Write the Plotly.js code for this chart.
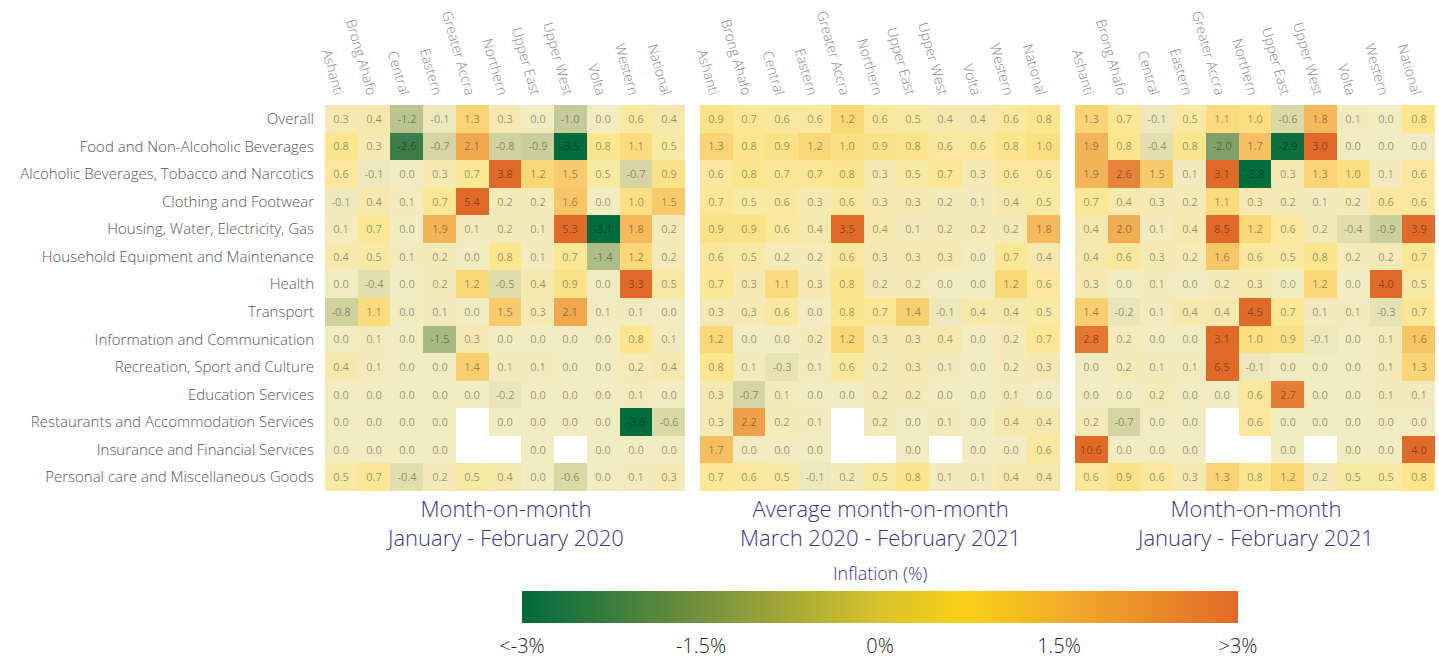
<!DOCTYPE html>
<html>
<head>
<meta charset="utf-8">
<script src="https://cdn.plot.ly/plotly-3.0.1.min.js"></script>
<style>html,body{margin:0;padding:0;background:#fff;}#chart{width:1439px;height:664px;}</style>
</head>
<body>
<div id="chart"></div>
<script>
const regions = ["Ashanti","Brong Ahafo","Central","Eastern","Greater Accra","Northern","Upper East","Upper West","Volta","Western","National"];
const categories = ["Overall","Food and Non-Alcoholic Beverages","Alcoholic Beverages, Tobacco and Narcotics","Clothing and Footwear","Housing, Water, Electricity, Gas","Household Equipment and Maintenance","Health","Transport","Information and Communication","Recreation, Sport and Culture","Education Services","Restaurants and Accommodation Services","Insurance and Financial Services","Personal care and Miscellaneous Goods"];

const momJanFeb2020 = [
  [0.3,0.4,-1.2,-0.1,1.3,0.3,0.0,-1.0,0.0,0.6,0.4],
  [0.8,0.3,-2.6,-0.7,2.1,-0.8,-0.9,-3.5,0.8,1.1,0.5],
  [0.6,-0.1,0.0,0.3,0.7,3.8,1.2,1.5,0.5,-0.7,0.9],
  [-0.1,0.4,0.1,0.7,5.4,0.2,0.2,1.6,0.0,1.0,1.5],
  [0.1,0.7,0.0,1.9,0.1,0.2,0.1,5.3,-3.1,1.8,0.2],
  [0.4,0.5,0.1,0.2,0.0,0.8,0.1,0.7,-1.4,1.2,0.2],
  [0.0,-0.4,0.0,0.2,1.2,-0.5,0.4,0.9,0.0,3.3,0.5],
  [-0.8,1.1,0.0,0.1,0.0,1.5,0.3,2.1,0.1,0.1,0.0],
  [0.0,0.1,0.0,-1.5,0.3,0.0,0.0,0.0,0.0,0.8,0.1],
  [0.4,0.1,0.0,0.0,1.4,0.1,0.1,0.0,0.0,0.2,0.4],
  [0.0,0.0,0.0,0.0,0.0,-0.2,0.0,0.0,0.0,0.1,0.0],
  [0.0,0.0,0.0,0.0,null,0.0,0.0,0.0,0.0,-3.6,-0.6],
  [0.0,0.0,0.0,0.0,null,null,0.0,null,0.0,0.0,0.0],
  [0.5,0.7,-0.4,0.2,0.5,0.4,0.0,-0.6,0.0,0.1,0.3]
];
const avgMar2020Feb2021 = [
  [0.9,0.7,0.6,0.6,1.2,0.6,0.5,0.4,0.4,0.6,0.8],
  [1.3,0.8,0.9,1.2,1.0,0.9,0.8,0.6,0.6,0.8,1.0],
  [0.6,0.8,0.7,0.7,0.8,0.3,0.5,0.7,0.3,0.6,0.6],
  [0.7,0.5,0.6,0.3,0.6,0.3,0.3,0.2,0.1,0.4,0.5],
  [0.9,0.9,0.6,0.4,3.5,0.4,0.1,0.2,0.2,0.2,1.8],
  [0.6,0.5,0.2,0.2,0.6,0.3,0.3,0.3,0.0,0.7,0.4],
  [0.7,0.3,1.1,0.3,0.8,0.2,0.2,0.0,0.0,1.2,0.6],
  [0.3,0.3,0.6,0.0,0.8,0.7,1.4,-0.1,0.4,0.4,0.5],
  [1.2,0.0,0.0,0.2,1.2,0.3,0.3,0.4,0.0,0.2,0.7],
  [0.8,0.1,-0.3,0.1,0.6,0.2,0.3,0.1,0.0,0.2,0.3],
  [0.3,-0.7,0.1,0.0,0.0,0.2,0.2,0.0,0.0,0.1,0.0],
  [0.3,2.2,0.2,0.1,null,0.2,0.0,0.1,0.0,0.4,0.4],
  [1.7,0.0,0.0,0.0,null,null,0.0,null,0.0,0.0,0.6],
  [0.7,0.6,0.5,-0.1,0.2,0.5,0.8,0.1,0.1,0.4,0.4]
];
const momJanFeb2021 = [
  [1.3,0.7,-0.1,0.5,1.1,1.0,-0.6,1.8,0.1,0.0,0.8],
  [1.9,0.8,-0.4,0.8,-2.0,1.7,-2.9,3.0,0.0,0.0,0.0],
  [1.9,2.6,1.5,0.1,3.1,-3.8,0.3,1.3,1.0,0.1,0.6],
  [0.7,0.4,0.3,0.2,1.1,0.3,0.2,0.1,0.2,0.6,0.6],
  [0.4,2.0,0.1,0.4,8.5,1.2,0.6,0.2,-0.4,-0.9,3.9],
  [0.4,0.6,0.3,0.2,1.6,0.6,0.5,0.8,0.2,0.2,0.7],
  [0.3,0.0,0.1,0.0,0.2,0.3,0.0,1.2,0.0,4.0,0.5],
  [1.4,-0.2,0.1,0.4,0.4,4.5,0.7,0.1,0.1,-0.3,0.7],
  [2.8,0.2,0.0,0.0,3.1,1.0,0.9,-0.1,0.0,0.1,1.6],
  [0.0,0.2,0.1,0.1,6.5,-0.1,0.0,0.0,0.0,0.1,1.3],
  [0.0,0.0,0.2,0.0,0.0,0.6,2.7,0.0,0.0,0.1,0.1],
  [0.2,-0.7,0.0,0.0,null,0.6,0.0,0.0,0.0,0.0,0.0],
  [10.6,0.0,0.0,0.0,null,null,0.0,null,0.0,0.0,4.0],
  [0.6,0.9,0.6,0.3,1.3,0.8,1.2,0.2,0.5,0.5,0.8]
];
const panelTitles = [
  "Month-on-month<br>January - February 2020",
  "Average month-on-month<br>March 2020 - February 2021",
  "Month-on-month<br>January - February 2021"
];
const legendTitle = "Inflation (%)";
const legendTicks = [-3,-1.5,0,1.5,3];
const legendTickText = ["<-3%","-1.5%","0%","1.5%",">3%"];

const cellScale = [
  [0,'#006b3c'],[0.0667,'#3d7d4a'],[0.1667,'#7f9f6b'],[0.25,'#a7b982'],
  [0.333,'#c5cb98'],[0.4167,'#dedcaa'],[0.5,'#f1ebc1'],[0.55,'#f4e9b3'],
  [0.633,'#fbe68e'],[0.7,'#fad878'],[0.767,'#f6c566'],[0.85,'#f0a84f'],
  [0.933,'#e8843a'],[1,'#e06a28']
];
const barScale = [
  [0,'#006b3c'],[0.25,'#74903e'],[0.5,'#d8c22c'],[0.62,'#fad016'],[0.75,'#f3ae2a'],[1,'#e06a28']
];

const FONT = '"Open Sans", Lato, sans-serif';
const PURPLE = '#3b3486';
const datasets = [momJanFeb2020, avgMar2020Feb2021, momJanFeb2021];
const axNames = ['x','x2','x3'];

const traces = datasets.map((z,i)=>({
  type:'heatmap', x:regions, y:categories, z:z,
  xaxis:axNames[i], yaxis:'y',
  zmin:-3, zmax:3, colorscale:cellScale, showscale:false,
  texttemplate:'%{z:.1f}', textfont:{family:FONT,size:11,color:'rgba(0,0,0,0.4)'},
  hoverongaps:false
}));

// plot area: top 105, bottom 493 (height 388), left 325, width 1110
const PH = 388, PW = 1110;
traces.push({
  type:'scatter', mode:'markers', x:[null], y:[null], xaxis:'x', yaxis:'y',
  showlegend:false, hoverinfo:'skip',
  marker:{color:[0], cmin:-3, cmax:3, colorscale:barScale, showscale:true,
    colorbar:{orientation:'h', xref:'paper', yref:'paper',
      x:(880-325)/PW, xanchor:'center', y:-(594-493)/PH, yanchor:'top',
      len:716, lenmode:'pixels', thickness:32, outlinewidth:0, xpad:0, ypad:0,
      tickvals:legendTicks, ticktext:legendTickText,
      ticks:'outside', ticklen:6, tickcolor:'#ffffff', tickwidth:1,
      tickfont:{family:FONT,size:20,color:'#222',weight:300}
    }}
});

const domains = [[0,360/PW],[375/PW,735/PW],[750/PW,1]];
const layout = {
  width:1439, height:664,
  margin:{l:325,r:4,t:105,b:171},
  paper_bgcolor:'#fff', plot_bgcolor:'#fff',
  font:{family:FONT},
  showlegend:false,
  yaxis:{autorange:'reversed', type:'category', showgrid:false, zeroline:false, ticks:'',
    ticklabelstandoff:10, tickfont:{family:FONT,size:15,color:'#555',weight:300}},
  annotations:[{xref:'paper', yref:'paper', x:(880-325)/PW, y:-(575-493)/PH, yanchor:'middle',
    showarrow:false, text:legendTitle, font:{family:FONT,size:18,color:PURPLE,weight:300}}]
};
axNames.forEach((a,i)=>{
  const key = i===0 ? 'xaxis' : 'xaxis'+(i+1);
  layout[key] = {domain:domains[i], side:'top', type:'category', tickangle:74,
    showgrid:false, zeroline:false, ticks:'', anchor:'y',
    tickfont:{family:FONT,size:14,color:'#888',weight:300}};
  layout.annotations.push({xref:a+' domain', yref:'paper', x:0.5, y:-(525-493)/PH, yanchor:'middle',
    showarrow:false, text:panelTitles[i], font:{family:FONT,size:22,color:PURPLE,weight:300}});
});

Plotly.newPlot('chart', traces, layout, {displayModeBar:false, staticPlot:true});
</script>
</body>
</html>
